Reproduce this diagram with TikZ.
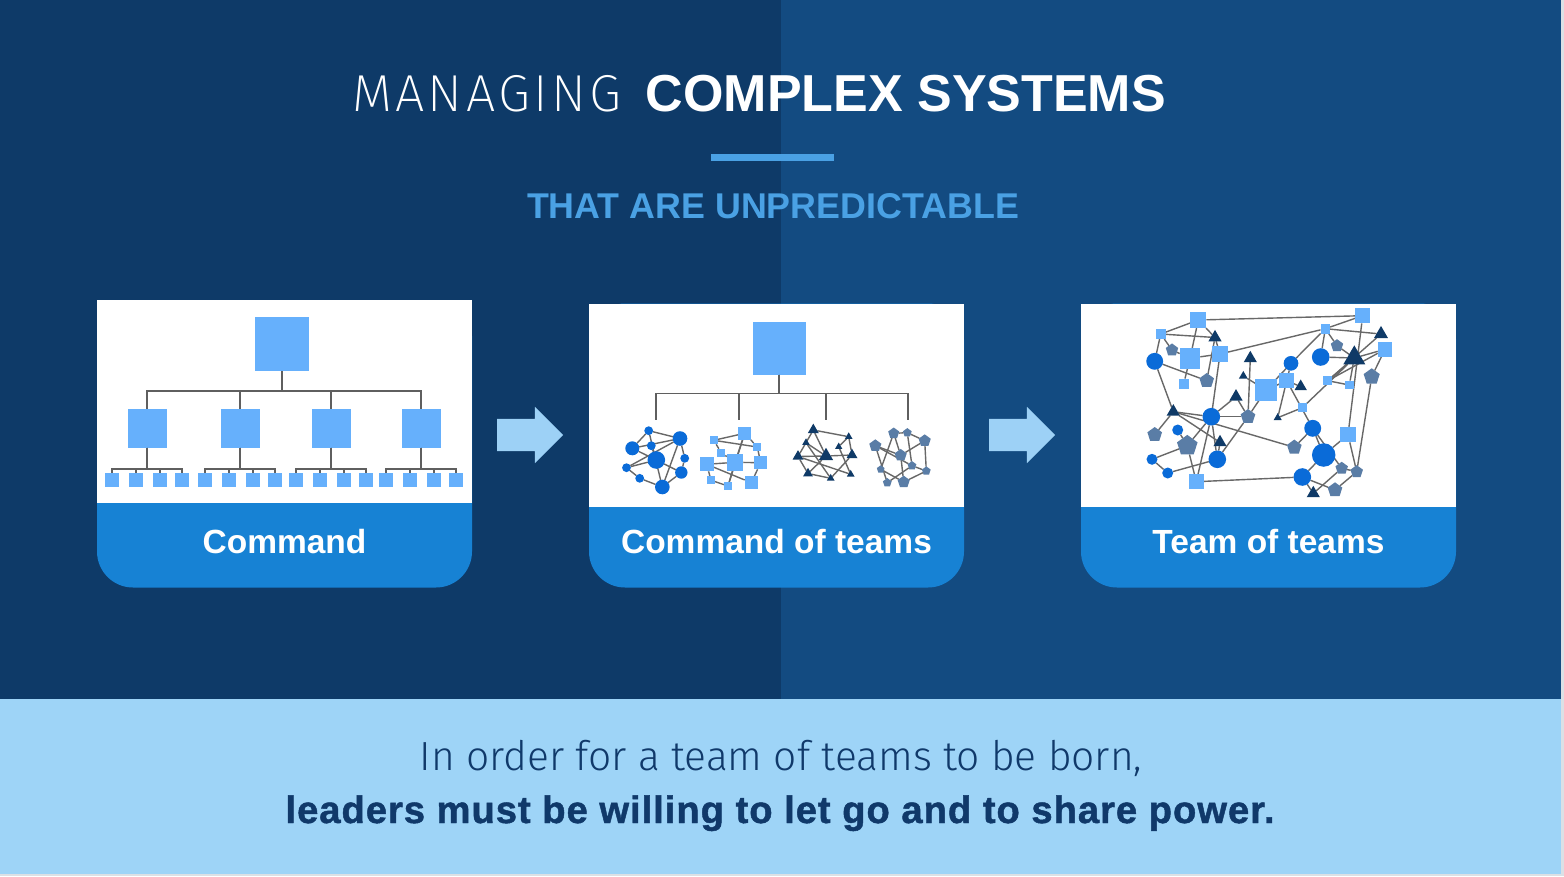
\documentclass[tikz,border=0pt]{standalone}
\usepackage{fontspec}
\setmainfont{Liberation Sans}
\newfontfamily\thinfont{Fira Sans ExtraLight}[LetterSpace=6.5]
\newfontfamily\lightfont{Fira Sans Light}
\usetikzlibrary{arrows.meta,positioning,calc,shapes.geometric,shapes.arrows}
\definecolor{deep}{HTML}{0E3A68}
\definecolor{navy}{HTML}{134B81}
\definecolor{sky}{HTML}{9ED4F7}
\definecolor{ink}{HTML}{10396A}
\definecolor{accent}{HTML}{4AA1E4}
\definecolor{cardblue}{HTML}{1782D4}
\definecolor{arrowblue}{HTML}{9DD1F6}
\definecolor{sqblue}{HTML}{66B0FC}
\definecolor{dotblue}{HTML}{0A6BD8}
\definecolor{trinavy}{HTML}{0F3A67}
\definecolor{slate}{HTML}{5A7DA6}
\definecolor{wire}{HTML}{686868}
\definecolor{branch}{HTML}{5F5F5F}
\definecolor{frame}{HTML}{DCE0E5}
\pgfdeclarelayer{back}
\pgfdeclarelayer{wires}
\pgfsetlayers{back,wires,main}
\tikzset{
  >=Latex,
  every node/.style={inner sep=0pt,outer sep=0pt},
  card/.style={fill=cardblue,rounded corners=36pt,minimum width=375pt},
  photo/.style={fill=white,minimum width=375pt,minimum height=203pt,anchor=north},
  cardlabel/.style={anchor=base,text=white,font=\bfseries\fontsize{33.5}{40}\selectfont},
  nextarrow/.style={single arrow,fill=arrowblue,minimum height=66pt,minimum width=56pt,inner ysep=16pt,
    single arrow head extend=12pt,single arrow head indent=0pt},
  sq/.style={fill=sqblue,minimum size=#1},
  dot/.style={circle,fill=dotblue,minimum size=#1},
  tri/.style={regular polygon,regular polygon sides=3,fill=trinavy,minimum size=#1},
  pent/.style={regular polygon,regular polygon sides=5,fill=slate,minimum size=#1},
  treeline/.style={draw=branch,line width=2pt},
  link/.style={draw=wire,line width=1.4pt},
}

\begin{document}
\begin{tikzpicture}[x=1pt,y=-1pt]
\useasboundingbox (0,0) rectangle (1564,876);
\begin{pgfonlayer}{back}
\fill[frame] (0,0) rectangle (1564,876);
\fill[deep] (0,0) rectangle (781,699);
\fill[navy] (781,0) rectangle (1561,699);
\fill[sky] (0,699) rectangle (1561,874);
\node[card,minimum height=287.5pt] (card1) at (284.5,443.75) {};
\node[card,minimum height=284pt] (card2) at (776.5,445.5) {};
\node[card,minimum height=284pt] (card3) at (1268.5,445.5) {};
\node[photo] (img1) at (card1.north) {};
\node[photo] (img2) at (card2.north) {};
\node[photo] (img3) at (card3.north) {};
\end{pgfonlayer}

\node[anchor=base,text=white,font=\fontsize{52}{60}\selectfont] (title) at (759,111)
  {{\thinfont MANAGING}\hspace{10pt} \textbf{COMPLEX SYSTEMS}};
\draw[accent,line width=6.5pt] (711,157.5) -- (834,157.5);
\node[anchor=base,text=accent,font=\bfseries\fontsize{35.8}{40}\selectfont] (subtitle) at (773,218) {THAT ARE UNPREDICTABLE};

\coordinate (capline) at (0,553);
\node[cardlabel] (cap1) at (card1 |- capline) {Command};
\node[cardlabel] (cap2) at (card2 |- capline) {Command of teams};
\node[cardlabel] (cap3) at (card3 |- capline) {Team of teams};

\node[nextarrow] (go1) at (522,435) {};
\node[nextarrow] (go2) at (1014,435) {};

\node[sq=54pt] (boss) at (282,344) {};
\foreach \i/\x in {1/147,2/240,3/331,4/421} {
  \node[sq=39pt] (mid\i) at (\x,428) {};
  \draw[treeline] (boss.south) -- ++(0,20) -| (mid\i.north);
  \foreach \j/\dx in {1/-35,2/-11,3/13,4/35} {
    \node[sq=14.5pt] (leaf\i\j) at (\x+\dx,480) {};
    \draw[treeline] (mid\i.south) -- ++(0,21) -| (leaf\i\j.north);
  }
}

\node[sq=53pt] (chief) at (779,348) {};
\foreach \i/\x in {1/656,2/739,3/826,4/908} {
  \coordinate (unit\i) at (\x,419.5);
  \draw[treeline,line width=1.8pt] (chief.south) -- ++(0,19) -| (unit\i);
}
\foreach \n/\x/\y/\d in {a1/648.7/430.7/8.8,a2/680/438.5/14.6,a3/632.3/448.3/14,a4/651.3/445.7/8.8,a5/656.3/460/17.6,
  a6/684.7/458.3/8.8,a7/626.5/467.7/8.8,a8/681.3/472.5/12.4,a9/639.7/478.3/8.8,a10/662.3/487/14.6}
  \node[dot=\d] (\n) at (\x,\y) {};
\foreach \n/\x/\y/\d in {b1/713.7/440.3/8,b2/744.7/433.3/13.2,b3/757.3/447/8,b4/721.3/452.7/8,b5/735/462.3/16.5,
  b6/706.7/464.3/14,b7/760.7/462.7/13.2,b8/711/480.3/8,b9/728/486/8,b10/751.3/482.7/13.2}
  \node[sq=\d] (\n) at (\x,\y) {};
\foreach \n/\x/\y/\d in {c1/813.3/430/12.7,c2/848.7/436.7/8.8,c3/806/442.7/8.8,c4/838.7/446.7/8.3,c5/798/456.5/12.7,
  c6/826/456/16.5,c7/852/455/12.7,c8/808/473.5/11.4,c9/830.7/478.3/8.8,c10/850.7/474.3/8.8}
  \node[tri=\d] (\n) at (\x,\y) {};
\foreach \n/\x/\y/\d in {d1/893.7/433.3/11.6,d2/907.3/432.7/9.2,d3/924.7/440.7/12.7,d4/875.3/445.7/12.7,d5/900.7/455.3/12.7,
  d6/912/465.7/9.2,d7/880.7/469.3/8.1,d8/926.3/471/9.2,d9/887.3/482.7/9.2,d10/903.7/482/12.7}
  \node[pent=\d] (\n) at (\x,\y) {};

\foreach \n/\x/\y/\d in {q1/1198.3/320/16.2,q2/1160.7/334/10.2,q3/1190/358.3/20.6,q4/1220/354/15.4,q5/1183.7/383.7/10.2,
  q6/1362.7/315.7/15.4,q7/1325.3/328.7/9.6,q8/1385/349.3/14.6,q9/1266/390/21.2,q10/1286.7/380.7/14.6,q11/1327.7/380.7/8.8,
  q12/1349.3/385/8.8,q13/1302.3/407.7/8.8,q14/1348/434.7/15.4,q15/1196.3/481.7/15.4}
  \node[sq=\d] (\n) at (\x,\y) {};
\foreach \n/\x/\y/\d in {o1/1154.7/361.3/16.9,o2/1291/363.3/14.7,o3/1320.7/357/17.6,o4/1211.3/416.7/17.6,o5/1177.7/430/11,
  o6/1312.7/428.3/16.9,o7/1323.7/455/23.5,o8/1217.3/459.3/17.6,o9/1152/459.3/11,o10/1167.7/473/11,o11/1302.3/477/17.6}
  \node[dot=\d] (\n) at (\x,\y) {};
\foreach \n/\x/\y/\d in {t1/1215/337.5/15.2,t2/1381/334/16.1,t3/1250.3/358.4/15.2,t4/1243.3/376/10.1,t5/1354.3/358/25.3,
  t6/1300.7/386.6/14.3,t7/1236/396.7/15.2,t8/1173.3/411.7/15.2,t9/1277.7/417.7/9.2,t10/1220/442.4/15.2,t11/1313.3/493.4/15.2}
  \node[tri=\d] (\n) at (\x,\y) {};
\foreach \n/\x/\y/\d in {p1/1172/350/13.1,p2/1206.7/380.7/15.4,p3/1337/345.7/13.1,p4/1371.7/376.7/16.9,p5/1248/416.7/15.4,
  p6/1154.7/434.7/15.4,p7/1187.3/445.7/21.6,p8/1294.3/447.3/15.4,p9/1341.7/468.3/13.1,p10/1356.7/471.7/13.1,p11/1335/490/15.4}
  \node[pent=\d] (\n) at (\x,\y) {};

\begin{pgfonlayer}{wires}
\foreach \p/\q in {a1/a2,a1/a3,a1/a10,a3/a2,a3/a5,a4/a5,a2/a7,a2/a10,a2/a6,a5/a8,a7/a9,a7/a5,a8/a10,a6/a8,a9/a10,
  b1/b2,b1/b4,b2/b3,b2/b5,b1/b3,b4/b5,b5/b6,b5/b7,b3/b7,b6/b8,b6/b10,b9/b5,b9/b2,b7/b10,b8/b9,
  c1/c2,c1/c5,c1/c6,c2/c4,c3/c6,c3/c9,c5/c6,c5/c8,c6/c7,c6/c8,c4/c10,c7/c9,c8/c9,c5/c10,c2/c7,
  d1/d2,d1/d5,d1/d7,d2/d3,d2/d6,d3/d5,d3/d8,d4/d5,d4/d9,d5/d10,d6/d8,d7/d10,d8/d10,d4/d6,d9/d6,
  q1/q6,q1/q2,q2/t1,q1/t1,q1/q3,q2/o1,q2/p1,q3/q4,q4/q7,q4/t1,q4/o4,o1/p2,o1/t8,q3/q5,t1/p2,p1/q3,
  t3/p5,t7/o4,t7/p5,q9/p5,q9/q10,o2/q10,o2/q7,q7/o3,q7/q6,q7/t2,q6/q14,q8/q11,q8/t5,t5/q11,t5/q12,
  t5/o3,q13/t9,t5/q13,t2/q11,p4/p10,q8/p4,q10/o6,q10/t9,o6/o7,o6/p8,q14/p10,q14/o7,p8/t8,o11/q15,
  o11/p11,o11/t11,o7/o11,p10/p11,p9/p10,t8/o4,t8/p6,t8/t10,o4/o8,o4/p7,o4/q15,t10/o8,o9/p7,o9/o10,
  o10/o8,p7/q15,o8/p5,p5/o4,o5/p7,q9/o2,t6/q10,p3/q7,p3/t5,q11/q12,t4/q9,o6/p9,p9/t11}
  \draw[link] (\p) -- (\q);
\end{pgfonlayer}

\node[anchor=base,text=ink,font=\lightfont\fontsize{40.7}{46}\selectfont] (lead) at (781,770)
  {In order for a team of teams to be born,};
\node[anchor=base,text=ink,font=\bfseries\fontsize{38.2}{44}\selectfont\addfontfeatures{LetterSpace=2.5,FakeBold=1.2}] (punch) at (780,823)
  {leaders must be willing to let go and to share power.};
\end{tikzpicture}
\end{document}
